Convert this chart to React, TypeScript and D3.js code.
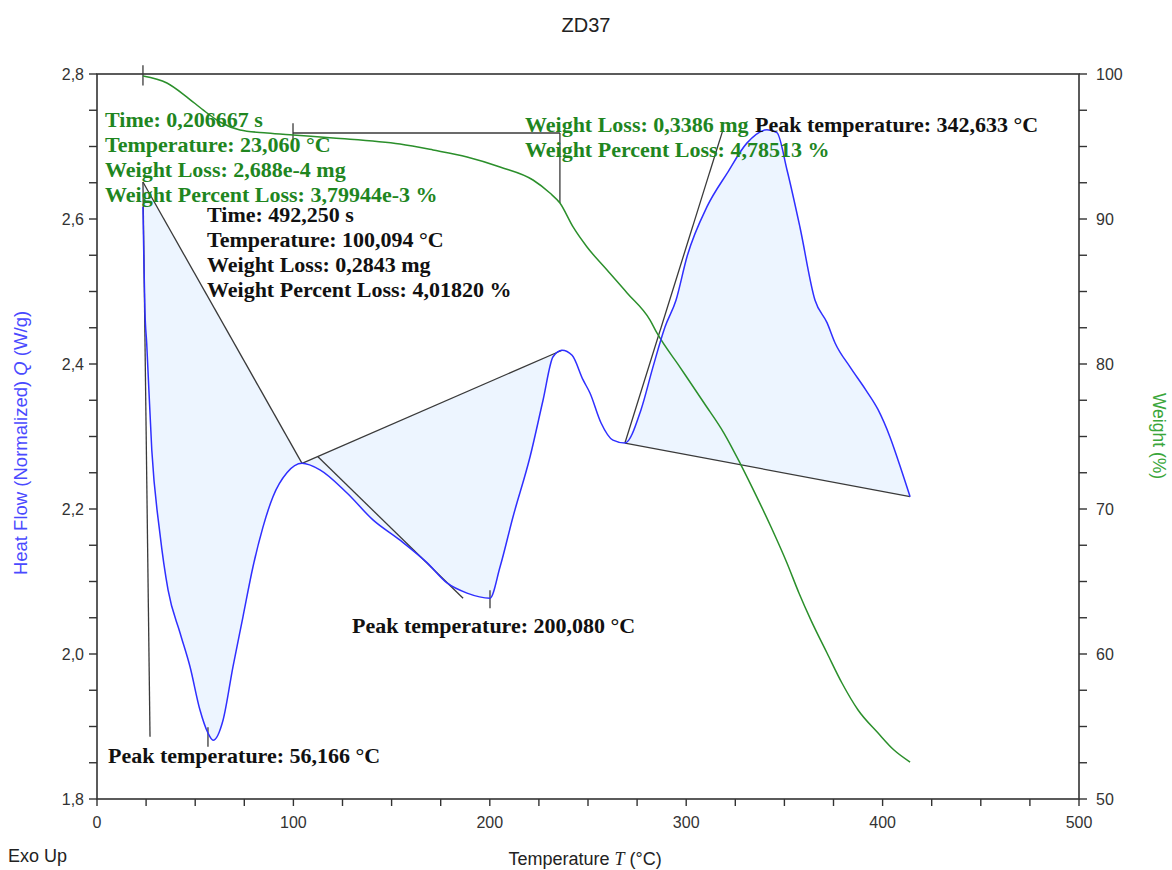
import React from 'react';
import * as d3 from 'd3';

// ---------- DATA ----------
const hfTemperature = [23.4, 23.9, 24.4, 25.3, 27.9, 32.0, 36.2, 42.3, 47.4, 52.4, 56.5, 59.1, 64.2, 69.2, 74.3, 79.4, 84.5, 89.6, 96.7, 104.4, 113.5, 127.3, 140.5, 154.3, 168.0, 178.2, 188.4, 200.1, 205.2, 211.8, 220.5, 227.1, 232.2, 236.8, 241.9, 247.5, 251.0, 256.6, 262.7, 268.8, 277.0, 283.1, 289.2, 294.8, 300.4, 310.6, 320.8, 331.0, 341.1, 346.2, 351.3, 357.9, 365.6, 371.7, 375.8, 383.4, 391.5, 397.7, 403.8, 407.8, 414.0];
const heatFlow = [2.617, 2.539, 2.474, 2.429, 2.281, 2.167, 2.088, 2.029, 1.982, 1.923, 1.891, 1.881, 1.909, 1.982, 2.051, 2.120, 2.175, 2.217, 2.250, 2.263, 2.254, 2.222, 2.185, 2.157, 2.126, 2.098, 2.084, 2.077, 2.120, 2.189, 2.272, 2.350, 2.410, 2.419, 2.412, 2.378, 2.360, 2.319, 2.295, 2.291, 2.337, 2.396, 2.451, 2.488, 2.548, 2.617, 2.663, 2.705, 2.723, 2.719, 2.668, 2.589, 2.488, 2.457, 2.429, 2.396, 2.364, 2.337, 2.299, 2.268, 2.217];

const wTemperature = [23.4, 35.6, 45.8, 54.0, 62.6, 72.8, 86.6, 99.8, 120.2, 154.3, 171.1, 188.4, 205.2, 222.0, 230.6, 235.7, 242.4, 249.5, 259.7, 269.9, 281.6, 285.1, 296.8, 309.1, 319.2, 327.4, 335.0, 343.2, 351.3, 357.4, 363.5, 371.7, 379.3, 387.5, 397.7, 405.8, 414.0];
const weightPct = [99.86, 99.38, 98.41, 97.52, 96.69, 96.14, 95.93, 95.79, 95.59, 95.17, 94.76, 94.28, 93.59, 92.69, 91.79, 91.10, 89.45, 88.07, 86.48, 84.90, 83.03, 82.14, 79.79, 77.31, 75.24, 73.17, 71.10, 68.76, 66.28, 64.21, 62.34, 60.07, 58.00, 56.14, 54.55, 53.38, 52.55];

// construction lines on heat-flow axis: [t0, q0, t1, q1]
const hfLines = [
  [23.4, 2.651, 27.0, 1.886],
  [23.4, 2.651, 104.4, 2.263],
  [104.4, 2.263, 236.8, 2.419],
  [112.5, 2.272, 186.4, 2.077],
  [56.5, 1.899, 56.5, 1.872],
  [200.1, 2.088, 200.1, 2.063],
  [268.8, 2.291, 318.7, 2.723],
  [268.8, 2.291, 414.0, 2.217],
];
// integrated areas: [tStart, tEnd, baseline index in hfLines]
const peakAreas = [
  [23.4, 104.4, 1],
  [104.4, 236.8, 2],
  [268.8, 414.0, 7],
];
// weight-loss bracket lines on weight axis: [t0, w0, t1, w1]
const wLines = [
  [23.4, 100.6, 23.4, 99.2],
  [99.8, 96.6, 99.8, 95.45],
  [99.8, 95.93, 235.7, 95.93],
  [235.7, 95.93, 235.7, 91.1],
];

const xTicks = [0, 100, 200, 300, 400, 500];
const xTickLabels = ['0', '100', '200', '300', '400', '500'];
const qTicks = [1.8, 2.0, 2.2, 2.4, 2.6, 2.8];
const qTickLabels = ['1,8', '2,0', '2,2', '2,4', '2,6', '2,8'];
const wTicks = [50, 60, 70, 80, 90, 100];
const wTickLabels = ['50', '60', '70', '80', '90', '100'];

const greenNote1 = ['Time: 0,206667 s', 'Temperature: 23,060 °C', 'Weight Loss: 2,688e-4 mg', 'Weight Percent Loss: 3,79944e-3 %'];
const blackNote1 = ['Time: 492,250 s', 'Temperature: 100,094 °C', 'Weight Loss: 0,2843 mg', 'Weight Percent Loss: 4,01820 %'];
const greenNote2 = ['Weight Loss: 0,3386 mg', 'Weight Percent Loss: 4,78513 %'];
const peakLabels = ['Peak temperature: 56,166 °C', 'Peak temperature: 200,080 °C', 'Peak temperature: 342,633 °C'];

// ---------- STYLE ----------
const BLUE = '#2f2fff';
const GREEN_LINE = '#2b8f2b';
const GREEN_TEXT = '#1f861f';
const FILL = '#edf5ff';
const AX = '#333';
const SANS = 'Arial, "Liberation Sans", sans-serif';
const SERIF = '"Liberation Serif", "Times New Roman", serif';

type TP = { x: number; y: number; children: React.ReactNode; size?: number; sx?: number; rot?: number; anchor?: string; fill?: string; family?: string; weight?: string | number; dy?: string };
const Txt = ({ x, y, children, size = 16, sx = 1, rot = 0, anchor = 'start', fill = '#222', family = SANS, weight = 'normal', dy }: TP) => (
  <text transform={`translate(${x},${y}) rotate(${rot}) scale(${sx},1)`} textAnchor={anchor as any} fontSize={size} fill={fill} fontFamily={family} fontWeight={weight} dy={dy}>
    {children}
  </text>
);

export default function App() {
  const x = d3.scaleLinear().domain([0, 500]).range([97, 1079]);
  const yQ = d3.scaleLinear().domain([1.8, 2.8]).range([799, 74]);
  const yW = d3.scaleLinear().domain([50, 100]).range([799, 74]);

  const hf = hfTemperature.map((t, i) => ({ t, v: heatFlow[i] }));
  const wt = wTemperature.map((t, i) => ({ t, v: weightPct[i] }));

  const hfLine = d3.line<{ t: number; v: number }>().x(d => x(d.t)).y(d => yQ(d.v)).curve(d3.curveMonotoneX);
  const wLine = d3.line<{ t: number; v: number }>().x(d => x(d.t)).y(d => yW(d.v)).curve(d3.curveMonotoneX);

  const areas = peakAreas.map(([t0, t1, li]) => {
    const [a0, b0, a1, b1] = hfLines[li];
    const base = (t: number) => b0 + (b1 - b0) * (Math.min(Math.max(t, a0), a1) - a0) / (a1 - a0);
    const pts = hf.filter(d => d.t >= t0 - 0.01 && d.t <= t1 + 0.01);
    return d3.area<{ t: number; v: number }>().x(d => x(d.t)).y0(d => yQ(base(d.t))).y1(d => yQ(d.v)).curve(d3.curveMonotoneX)(pts) as string;
  });

  const xMinor = d3.range(0, 500.01, 25);
  const qMinor = d3.range(1.8, 2.8001, 0.05);
  const wMinor = d3.range(50, 100.01, 2.5);

  const annoSize = 20;
  const annoSx = 1.1;

  return (
    <svg width={1172} height={870} style={{ position: 'absolute', left: 0, top: 0, background: '#fff' }}>
      <rect x={0} y={0} width={1172} height={870} fill="#fff" />
      {/* title */}
      <Txt x={586} y={32} size={20} anchor="middle" fill="#222">ZD37</Txt>

      {/* fills */}
      {areas.map((d, i) => <path key={'a' + i} d={d} fill={FILL} stroke="none" />)}

      {/* frame */}
      <rect x={97} y={74} width={982} height={725} fill="none" stroke={AX} strokeWidth={1.6} />

      {/* x ticks */}
      {xMinor.map((t, i) => <line key={'xm' + i} x1={x(t)} x2={x(t)} y1={799} y2={806} stroke={AX} strokeWidth={1.4} />)}
      {xTicks.map((t, i) => (
        <Txt key={'xl' + i} x={x(t)} y={828} anchor="middle" size={16} fill="#333">{xTickLabels[i]}</Txt>
      ))}
      {/* left ticks */}
      {qMinor.map((q, i) => <line key={'qm' + i} x1={89} x2={97} y1={yQ(q)} y2={yQ(q)} stroke={AX} strokeWidth={1.4} />)}
      {qTicks.map((q, i) => (
        <Txt key={'ql' + i} x={84} y={yQ(q)} dy="0.35em" anchor="end" size={16} fill="#333">{qTickLabels[i]}</Txt>
      ))}
      {/* right ticks */}
      {wMinor.map((w, i) => <line key={'wm' + i} x1={1079} x2={1087} y1={yW(w)} y2={yW(w)} stroke={AX} strokeWidth={1.4} />)}
      {wTicks.map((w, i) => (
        <Txt key={'wl' + i} x={1096} y={yW(w)} dy="0.35em" anchor="start" size={16} fill="#333">{wTickLabels[i]}</Txt>
      ))}

      {/* axis titles */}
      <Txt x={585} y={865} anchor="middle" size={18} fill="#222">
        Temperature <tspan fontStyle="italic" fontFamily={SERIF}>T</tspan> (°C)
      </Txt>
      <Txt x={8} y={862} size={18} fill="#222">Exo Up</Txt>
      <Txt x={27} y={443} rot={-90} anchor="middle" size={18.5} fill="#4a4aff">
        Heat Flow (Normalized)  <tspan fontStyle="italic">Q</tspan>  (W/g)
      </Txt>
      <Txt x={1153} y={436} rot={90} anchor="middle" size={17.5} fill="#3aa63a">Weight  (%)</Txt>

      {/* construction lines */}
      {hfLines.map(([t0, q0, t1, q1], i) => (
        <line key={'hl' + i} x1={x(t0)} y1={yQ(q0)} x2={x(t1)} y2={yQ(q1)} stroke="#3a3a3a" strokeWidth={1.3} />
      ))}
      {wLines.map(([t0, w0, t1, w1], i) => (
        <line key={'wln' + i} x1={x(t0)} y1={yW(w0)} x2={x(t1)} y2={yW(w1)} stroke="#3a3a3a" strokeWidth={1.3} />
      ))}

      {/* curves */}
      <path d={wLine(wt) as string} fill="none" stroke={GREEN_LINE} strokeWidth={1.5} />
      <path d={hfLine(hf) as string} fill="none" stroke={BLUE} strokeWidth={1.5} />

      {/* annotations */}
      {greenNote1.map((s, i) => (
        <Txt key={'g1' + i} x={105} y={127 + 25 * i} size={annoSize} sx={annoSx} family={SERIF} weight="bold" fill={GREEN_TEXT}>{s}</Txt>
      ))}
      {blackNote1.map((s, i) => (
        <Txt key={'b1' + i} x={207} y={222 + 25 * i} size={annoSize} sx={annoSx} family={SERIF} weight="bold" fill="#111">{s}</Txt>
      ))}
      {greenNote2.map((s, i) => (
        <Txt key={'g2' + i} x={525} y={132 + 25 * i} size={annoSize} sx={annoSx} family={SERIF} weight="bold" fill={GREEN_TEXT}>{s}</Txt>
      ))}
      <Txt x={108} y={763} size={annoSize} sx={annoSx} family={SERIF} weight="bold" fill="#111">{peakLabels[0]}</Txt>
      <Txt x={352} y={633} size={annoSize} sx={annoSx} family={SERIF} weight="bold" fill="#111">{peakLabels[1]}</Txt>
      <Txt x={755} y={132} size={annoSize} sx={annoSx} family={SERIF} weight="bold" fill="#111">{peakLabels[2]}</Txt>
    </svg>
  );
}
